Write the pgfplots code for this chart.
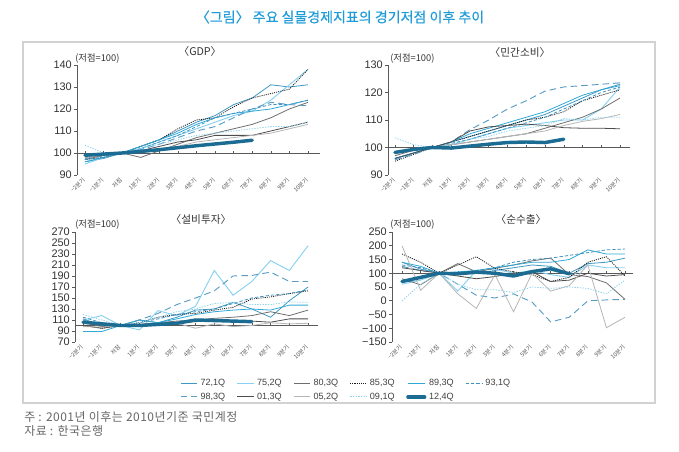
\documentclass[border=0pt]{standalone}
\usepackage{pgfplots}
\pgfplotsset{compat=1.18}
\usepackage{pgfplotstable}
\usepackage{fontspec}
\setmainfont{Liberation Sans}
\newfontfamily\kr{Noto Sans CJK KR}
\newfontfamily\krt[FakeBold=0.4]{Noto Sans CJK KR}
\newfontfamily\krw[LetterSpace=4]{Noto Sans CJK KR}

\definecolor{c72}{HTML}{3F98C2}
\definecolor{c75}{HTML}{86D1EF}
\definecolor{c80}{HTML}{6E6E6E}
\definecolor{c85}{HTML}{1A1A1A}
\definecolor{c89}{HTML}{2FA9D6}
\definecolor{c93}{HTML}{3F92C0}
\definecolor{c98}{HTML}{5A9CC4}
\definecolor{c01}{HTML}{4D4D4D}
\definecolor{c05}{HTML}{B5B5B5}
\definecolor{c09}{HTML}{8DD3EF}
\definecolor{c12}{HTML}{1B6B92}
\definecolor{ctitle}{HTML}{1F9BD7}
\definecolor{cframe}{HTML}{D2D2D2}

\pgfplotstableread{
x   s72   s75   s80   s85   s89   s93   s98   s01   s05   s09   s12
-2  96    95    97    97    96    97    97.5  98    98    103.5 99
-1  97.5  98    99    98    98    98    98.5  99    99    100   99.5
0   100   100   100   100   100   100   100   100   100   100   100
1   103   102   98    103   103   102   101.5 101   101   102   100.7
2   106   105   101   106   106   105   104   103   102   104   101.5
3   110   108   104   111   109   108   107   105   103   106   102.4
4   114   111   107   115   113   112   110   106   105   108   103.3
5   117   114   109   116   116   116   112   108   106   109   104.1
6   122   117   111   121   118   118   116   108   107   110   104.9
7   125   119   113   125   119   120   120   108   108   111   105.8
8   131   124   116   127   120   122   123   110   109   112   nan
9   130   131   120   129   122   122   122   112   111   112   nan
10  131   138   123   138   124   124   121.5 114   113   114   nan
}\gdp

\pgfplotstableread{
x   s72   s75   s80   s85   s89   s93   s98   s01   s05   s09   s12
-2  96    96    97    95    96    96    95.5  96    98    103.5 98.2
-1  98    98    99    97.5  98    98    97.5  98    99    101   99.3
0   100   100   100   100   100   100   100   100   100   100   100
1   102   101   101   102   102   101.5 102   102   101   101   99.8
2   104   103   102   104   105   103   106.5 106   102   103   100.5
3   106   105   103   106   107   105   110   107.5 103   104   101.2
4   108   107   104   108   109   107   114   108   104   106   101.8
5   110   108   105   110   111   109   117   108.5 105   107   102
6   112   109   107   111   113   111   120.5 108   106   108   101.8
7   115   110   109   113   116   114   122   107.2 108   110.5 103
8   118   110   111   117   119   117   122.5 107   109.5 110   nan
9   121   114   114   119   121   120   123   107   110.5 111   nan
10  123   122   118   121   122.5 122   123.5 106.8 112   111   nan
}\cons

\pgfplotstableread{
x   s72   s75   s80   s85   s89   s93   s98   s01   s05   s09   s12
-2  110   110   105   100   89    115   112   100   98    120   106
-1  100   118   98    95    89    105   100   95    97    110   103
0   100   100   100   100   100   100   100   100   100   100   100
1   110   92    102   105   110   105   110   98    100   105   100
2   105   127   105   115   105   112   122   103   103   115   102
3   115   118   108   120   112   120   138   105   104   125   104
4   128   135   110   122   120   125   150   107   95    130   110
5   130   200   113   128   125   130   163   108   103   140   109
6   142   155   115   133   128   140   190   108   98    142   108
7   130   180   118   148   130   150   191   108   100   138   107
8   115   218   125   152   128   155   197   106   105   138   nan
9   145   200   118   158   137   158   180   112   103   143   nan
10  170   245   128   163   137   165   180   112   104   142   nan
}\inv

\pgfplotstableread{
x   s72   s75   s80   s85   s89   s93   s98   s01   s05   s09   s12
-2  140   60    80    170   140   130   125   120   200   0     70
-1  115   75    58    140   125   120   110   110   38    60    85
0   100   100   100   100   100   100   100   100   100   100   100
1   95    35    135   130   105   100   60    90    25    60    98
2   100   110   105   160   110   110   20    80    -28   40    104
3   110   115   118   118   120   120   10    88    95    40    100
4   120   100   130   105   130   140   25    100   -40   30    90
5   130   110   145   95    140   150   -5    105   100   50    106
6   125   95    155   70    140   155   -77   70    35    45    116
7   100   85    95    85    150   165   -60   75    55    50    98
8   135   130   88    140   185   175   0     100   130   45    nan
9   140   120   65    160   170   185   3     90    -98   25    nan
10  155   120   5     90    170   188   5     95    -60   75    nan
}\nex

\pgfplotsset{
  panel/.style={
    scale only axis, height=82.5pt,
    axis y line=left, axis x line=bottom,
    x axis line style={draw=none},
    y axis line style={-, draw=black!65, line width=0.5pt},
    xtick={-2,...,10},
    xticklabels={−2분기,−1분기,저점,1분기,2분기,3분기,4분기,5분기,6분기,7분기,8분기,9분기,10분기},
    xtick style={draw=none},
    ytick style={draw=black!65, line width=0.5pt},
    tick align=outside, major tick length=2.2pt,
    xticklabel style={font=\kr\fontsize{4.4}{5}\selectfont, rotate=45, anchor=east, text=black!65, inner sep=1pt},
    yticklabel style={font=\fontsize{8.2}{9}\selectfont, text=black!80, inner sep=1.5pt},
    /pgf/number format/assume math mode=true,
    clip=false,
    legend image code/.code={\draw[##1] (0pt,0pt) -- (12.5pt,0pt);},
  },
  s72/.style={c72, line width=0.6pt},
  s75/.style={c75, line width=0.7pt},
  s80/.style={c80, line width=0.6pt},
  s85/.style={c85, line width=0.6pt, dash pattern=on 0.8pt off 0.8pt},
  s89/.style={c89, line width=0.6pt},
  s93/.style={c93, line width=0.6pt, dash pattern=on 2.5pt off 1.5pt},
  s98/.style={c98, line width=0.7pt, dash pattern=on 5pt off 3pt},
  s01/.style={c01, line width=0.6pt},
  s05/.style={c05, line width=0.6pt},
  s09/.style={c09, line width=0.6pt, dash pattern=on 1pt off 1pt},
  s12/.style={c12, line width=2.6pt, line cap=round, line join=round},
}

\newcommand{\baseline}[2]{%
  \draw[black!65, line width=0.5pt] (axis cs:#1,100) -- (axis cs:#2,100);
  \pgfplotsinvokeforeach{-2,-1,0,1,2,3,4,5,6,7,8,9,10}{\draw[black!65, line width=0.4pt] (axis cs:##1,100) -- ++(0pt,1.5pt);}
}
\newcommand{\allplots}[1]{%
  \addplot[s72] table[x=x,y=s72]{#1};
  \addplot[s75] table[x=x,y=s75]{#1};
  \addplot[s80] table[x=x,y=s80]{#1};
  \addplot[s85] table[x=x,y=s85]{#1};
  \addplot[s89] table[x=x,y=s89]{#1};
  \addplot[s93] table[x=x,y=s93]{#1};
  \addplot[s98] table[x=x,y=s98]{#1};
  \addplot[s01] table[x=x,y=s01]{#1};
  \addplot[s05] table[x=x,y=s05]{#1};
  \addplot[s09] table[x=x,y=s09]{#1};
  \addplot[s12] table[x=x,y=s12]{#1};
}

\begin{document}
\begin{tikzpicture}[x=0.75pt,y=0.75pt]
\path[use as bounding box] (0,0) rectangle (679,452);
\coordinate (pG) at (77,277);
\coordinate (pC) at (388,277);
\coordinate (pI) at (75,110);
\coordinate (pN) at (392,110);
\draw[cframe, line width=1.1pt] (23,49) rectangle (655,410);
\node[font=\krt\fontsize{10.5}{12}\selectfont, text=ctitle] at (340,435) {〈그림〉 주요 실물경제지표의 경기저점 이후 추이};

% GDP
\begin{axis}[panel, at={(pG)}, anchor=south west, width=182.25pt,
  xmin=-2.43, xmax=10.65, ymin=90, ymax=140, ytick={90,100,...,140}]
  \baseline{-2.43}{10.65}
  \allplots{\gdp}
\end{axis}

% Consumption
\begin{axis}[panel, at={(pC)}, anchor=south west, width=181.5pt,
  xmin=-2.37, xmax=10.53, ymin=90, ymax=130, ytick={90,100,...,130}]
  \baseline{-2.37}{10.53}
  \allplots{\cons}
\end{axis}

% Investment
\begin{axis}[panel, at={(pI)}, anchor=south west, width=182.25pt,
  xmin=-2.43, xmax=10.53, ymin=70, ymax=270, ytick={70,90,...,270},
  legend columns=6,
  legend style={at={(0.432,-0.31)}, anchor=north west, draw=none, fill=none,
    font=\fontsize{6.8}{7.5}\selectfont, text=black!75, inner sep=0pt, row sep=0pt,
    /tikz/every even column/.append style={column sep=6.7pt}},
  legend cell align=left]
  \baseline{-2.43}{10.53}
  \allplots{\inv}
  \legend{72{,}1Q,75{,}2Q,80{,}3Q,85{,}3Q,89{,}3Q,93{,}1Q,98{,}3Q,01{,}3Q,05{,}2Q,09{,}1Q,12{,}4Q}
\end{axis}

% Net exports
\begin{axis}[panel, at={(pN)}, anchor=south west, width=180.75pt,
  xmin=-2.54, xmax=10.43, ymin=-150, ymax=250, ytick={-150,-100,...,250},
  yticklabels={−150,−100,−50,0,50,100,150,200,250}]
  \baseline{-2.54}{10.43}
  \allplots{\nex}
\end{axis}

\begin{scope}[font=\kr\fontsize{8}{9}\selectfont, text=black!80]
\node at (200,400.5) {〈GDP〉};
\node at (520,400) {〈민간소비〉};
\node at (201,233) {〈설비투자〉};
\node at (521,233) {〈순수출〉};
\end{scope}
\begin{scope}[font=\kr\fontsize{7}{8}\selectfont, text=black!80]
\node[anchor=west, inner sep=0pt] at (75,393.5) {(저점=100)};
\node[anchor=west, inner sep=0pt] at (390,393) {(저점=100)};
\node[anchor=west, inner sep=0pt] at (75,227) {(저점=100)};
\node[anchor=west, inner sep=0pt] at (390,227) {(저점=100)};
\end{scope}
\begin{scope}[font=\krw\fontsize{9}{10}\selectfont, text=black!60]
\node[anchor=west, inner sep=0pt] at (24,35.5) {주 : 2001년 이후는 2010년기준 국민계정};
\node[anchor=west, inner sep=0pt] at (24,21) {자료 : 한국은행};
\end{scope}
\end{tikzpicture}
\end{document}
